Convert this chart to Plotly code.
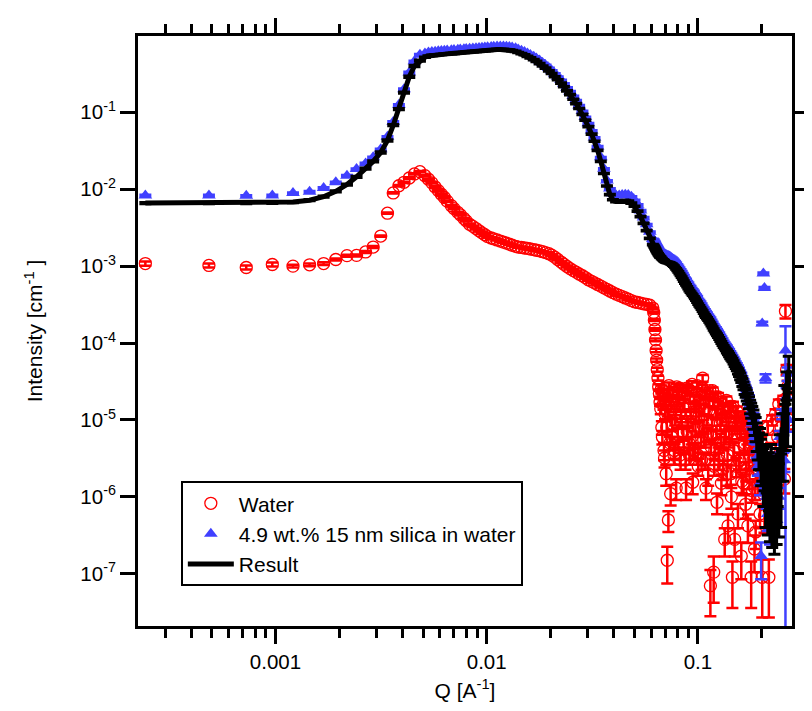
import plotly.graph_objects as go

# ---------------- Q grid [1/A] ----------------
q_low = [0.000242, 0.000484, 0.000727, 0.000966, 0.00121, 0.00145, 0.00169, 0.00193, 0.00218, 0.00242,
         0.00267, 0.00290, 0.00315, 0.00339, 0.00361, 0.00384, 0.00406, 0.00430, 0.00455, 0.00483]
q_mid = [0.0051, 0.0053, 0.0055, 0.0057, 0.0059, 0.0061, 0.0063, 0.0065, 0.0068, 0.0070,
         0.0073, 0.0075, 0.0078, 0.0080, 0.0083, 0.0086, 0.0089, 0.0092, 0.0095, 0.0098,
         0.0101, 0.0105, 0.0108, 0.0112, 0.0116, 0.0120, 0.0124, 0.0128, 0.0132, 0.0137,
         0.0141, 0.0146, 0.0151, 0.0156, 0.0161, 0.0167, 0.0172, 0.0178, 0.0184, 0.0190,
         0.0197, 0.0203, 0.0210, 0.0217, 0.0225, 0.0232, 0.0240, 0.0248, 0.0257, 0.0265,
         0.0274, 0.0284, 0.0293, 0.0303, 0.0314, 0.0324, 0.0335, 0.0347, 0.0359, 0.0371,
         0.0383, 0.0396, 0.0410, 0.0424, 0.0438, 0.0453, 0.0468, 0.0484, 0.0501, 0.0518,
         0.0535, 0.0553, 0.0572, 0.0592, 0.0612]
q_cliff = [0.0618, 0.0622, 0.0626, 0.0630, 0.0634, 0.0638, 0.0642, 0.0647, 0.0652, 0.0657, 0.0662]
q_high = [0.0667, 0.0675, 0.0683, 0.0691, 0.0699, 0.0708, 0.0716, 0.0725, 0.0734, 0.0743,
          0.0752, 0.0761, 0.0770, 0.0780, 0.0789, 0.0799, 0.0808, 0.0818, 0.0828, 0.0838,
          0.0848, 0.0858, 0.0869, 0.0879, 0.0890, 0.0901, 0.0912, 0.0923, 0.0934, 0.0945,
          0.0957, 0.0968, 0.0980, 0.0992, 0.1004, 0.1016, 0.1028, 0.1041, 0.1053, 0.1066,
          0.1079, 0.1092, 0.1105, 0.1119, 0.1132, 0.1146, 0.1160, 0.1174, 0.1188, 0.1202,
          0.1217, 0.1232, 0.1246, 0.1262, 0.1277, 0.1292, 0.1308, 0.1324, 0.1340, 0.1356,
          0.1372, 0.1389, 0.1406, 0.1423, 0.1440, 0.1457, 0.1475, 0.1493, 0.1511, 0.1529,
          0.1548, 0.1566, 0.1585, 0.1605, 0.1624, 0.1644, 0.1664, 0.1684, 0.1704, 0.1725,
          0.1746, 0.1767, 0.1788, 0.1810, 0.1832, 0.1854, 0.1877, 0.1899, 0.1922, 0.1946,
          0.1969, 0.1993, 0.2017, 0.2042, 0.2066, 0.2091, 0.2117, 0.2142, 0.2168, 0.2195,
          0.2221, 0.2248, 0.2276, 0.2303, 0.2331, 0.2359, 0.2388, 0.2417, 0.2446, 0.2476,
          0.2506, 0.2536, 0.2567, 0.2598, 0.2629, 0.2661, 0.2693]
# extra water points filling the noisy high-Q cloud
q_water_extra = [0.0671, 0.0679, 0.0687, 0.0695, 0.0704, 0.0712, 0.0720, 0.0729, 0.0738, 0.0747,
                 0.0756, 0.0765, 0.0775, 0.0784, 0.0794, 0.0803, 0.0813, 0.0823, 0.0833, 0.0843,
                 0.0853, 0.0863, 0.0874, 0.0884, 0.0895, 0.0906, 0.0917, 0.0928, 0.0939, 0.0951,
                 0.0962, 0.0974, 0.0986, 0.0998, 0.1010, 0.1022, 0.1035, 0.1047, 0.1060, 0.1072,
                 0.1085, 0.1099, 0.1112, 0.1125, 0.1139, 0.1153, 0.1167, 0.1181, 0.1195, 0.1210,
                 0.1224, 0.1239, 0.1254, 0.1269, 0.1285, 0.1300, 0.1316, 0.1332, 0.1348, 0.1364,
                 0.1381, 0.1397, 0.1414, 0.1431, 0.1449, 0.1466, 0.1484, 0.1502, 0.1520, 0.1539,
                 0.1557, 0.1576, 0.1595, 0.1614, 0.1634, 0.1654, 0.1674, 0.1694, 0.1714, 0.1735,
                 0.1756, 0.1778, 0.1799, 0.1821, 0.1843, 0.1865, 0.1888, 0.1911, 0.1934, 0.1957]

# ---------------- Water [1/cm] ----------------
water_low = [1.08e-3, 1.02e-3, 9.6e-4, 1.05e-3, 1.0e-3, 1.04e-3, 1.08e-3, 1.22e-3, 1.37e-3, 1.38e-3,
             1.53e-3, 1.77e-3, 2.46e-3, 4.88e-3, 8.95e-3, 1.11e-2, 1.23e-2, 1.40e-2, 1.58e-2, 1.69e-2]
water_mid = [1.5e-2, 1.35e-2, 1.21e-2, 1.07e-2, 9.6e-3, 8.6e-3, 7.8e-3, 7.0e-3, 6.1e-3, 5.6e-3,
             5.0e-3, 4.65e-3, 4.17e-3, 3.88e-3, 3.5e-3, 3.29e-3, 3.08e-3, 2.88e-3, 2.71e-3, 2.56e-3,
             2.42e-3, 2.32e-3, 2.26e-3, 2.19e-3, 2.12e-3, 2.05e-3, 1.99e-3, 1.93e-3, 1.87e-3, 1.81e-3,
             1.77e-3, 1.75e-3, 1.72e-3, 1.70e-3, 1.67e-3, 1.64e-3, 1.61e-3, 1.58e-3, 1.54e-3, 1.50e-3,
             1.45e-3, 1.39e-3, 1.31e-3, 1.22e-3, 1.13e-3, 1.06e-3, 9.9e-4, 9.3e-4, 8.75e-4, 8.35e-4,
             7.9e-4, 7.5e-4, 7.1e-4, 6.65e-4, 6.34e-4, 6.05e-4, 5.77e-4, 5.5e-4, 5.22e-4, 4.99e-4,
             4.75e-4, 4.53e-4, 4.32e-4, 4.17e-4, 4.02e-4, 3.86e-4, 3.72e-4, 3.57e-4, 3.44e-4, 3.37e-4,
             3.31e-4, 3.24e-4, 3.18e-4, 3.1e-4, 2.85e-4]
water_cliff = [2.5e-4, 2.0e-4, 1.5e-4, 1.1e-4, 8e-5, 6e-5, 4.5e-5, 3.5e-5, 2.7e-5, 2.2e-5, 1.7e-5]
water_high = [1.4e-5, 8e-6, 2.2e-5, 4e-6, 1.2e-5, 2e-6, 1.5e-7, 5e-7, 1.8e-5, 1.1e-6,
              6e-6, 2.4e-5, 3.5e-6, 1e-5, 1.3e-6, 1.7e-5, 5e-6, 2.6e-5, 3e-6, 9e-6,
              1.5e-5, 4.5e-6, 2.1e-5, 1.3e-6, 7e-6, 2.5e-5, 3.5e-6, 1.1e-5, 6e-6, 1.55e-6,
              1.9e-5, 4e-6, 1.3e-5, 2.8e-5, 2.5e-6, 8e-6, 1.6e-5, 3e-6, 3.5e-5, 5.5e-6,
              2.2e-5, 1.3e-6, 1e-5, 2e-6, 1.7e-5, 7e-8, 6e-6, 2.4e-5, 1.05e-7, 4e-6,
              1.2e-5, 8.5e-7, 2e-5, 3e-6, 9e-6, 1.5e-6, 1.4e-5, 5e-6, 2.8e-7, 1.1e-5,
              2e-6, 4.2e-7, 7e-6, 1.5e-5, 1e-6, 9e-8, 4e-6, 2.8e-7, 9e-6, 1.3e-5,
              6e-7, 3e-6, 7e-6, 1.7e-7, 1.1e-5, 1.5e-6, 5e-6, 8e-7, 9e-6, 4.2e-7,
              3e-6, 6e-6, 9e-8, 1.2e-6, 4e-6, 2.1e-7, 3.5e-7, 7e-6, 1.5e-6, 2.5e-6,
              6e-7, 5e-6, 9e-8, 1.1e-6, 5.7e-7, 3e-6, 2e-6, 8e-6, 9e-8, 1.5e-6,
              4e-6, 1e-5, 7e-7, 3e-6, 1.2e-5, 2e-6, 6e-6, 1.6e-5, 3e-6, 8e-6,
              4.6e-6, 1.8e-5, 1.7e-6, 2.6e-4, 4.5e-5, 2.7e-5, 1e-5]
water_extra = [2.5e-5, 6e-6, 1.6e-5, 3.2e-6, 2.0e-5, 8e-6, 1.3e-5, 2.8e-5, 5e-6, 1.5e-5,
               9e-6, 2.2e-5, 4e-6, 1.2e-5, 2.7e-5, 6.5e-6, 1.8e-5, 3.5e-6, 1.1e-5, 2.3e-5,
               7e-6, 1.6e-5, 3e-6, 2.6e-5, 9.5e-6, 5e-6, 1.9e-5, 1.2e-5, 2.9e-5, 4e-6,
               1.5e-5, 7.5e-6, 2.3e-5, 3.5e-6, 1.1e-5, 1.8e-5, 5.5e-6, 2.6e-5, 8.5e-6, 1.4e-5,
               3e-6, 2.1e-5, 6.5e-6, 1.3e-5, 2.4e-5, 4.5e-6, 9e-6, 1.7e-5, 2.5e-6, 2e-5,
               7e-6, 1.2e-5, 3.5e-6, 1.7e-5, 5.5e-6, 1e-5, 2.3e-6, 1.4e-5, 6e-6, 1.8e-5,
               3.5e-6, 9e-6, 1.3e-5, 2e-6, 6.5e-6, 1.5e-5, 4e-6, 1.1e-5, 2.5e-6, 8e-6,
               1.1e-5, 3e-6, 7e-6, 1.6e-6, 9e-6, 4.5e-6, 1e-5, 2.2e-6, 6e-6, 8e-6,
               1.8e-6, 5e-6, 7e-6, 3e-6, 6e-6, 1.3e-6, 4e-6, 5.5e-6, 2.3e-6, 3.5e-6]
# relative errors in percent
water_err_low = [6, 6, 6, 6, 4, 4, 4, 3, 3, 3, 3, 3, 2, 2, 2, 2, 2, 2, 2, 2]
water_err_mid = [2, 2, 2, 2, 2, 2, 2, 2, 2, 2, 2, 2, 2, 2, 2, 2, 2, 2, 2, 2,
                 2, 2, 2, 2, 2, 2, 2, 2, 2, 2, 2, 2, 2, 2, 2, 2, 2, 2, 2, 2,
                 2, 2, 2, 2, 2, 2, 2, 2, 2, 2, 2, 2, 2, 2, 2, 2, 2, 2, 2, 2,
                 2, 2, 2, 2, 2, 2, 2, 2, 2, 2, 2, 2, 2, 2, 2]
water_err_cliff = [3, 3, 4, 4, 5, 5, 6, 7, 8, 9, 10]
water_err_high = [15, 20, 12, 25, 15, 30, 50, 30, 12, 30,
                  20, 12, 25, 15, 30, 12, 20, 10, 25, 15,
                  12, 20, 12, 30, 20, 10, 25, 15, 20, 30,
                  12, 25, 15, 10, 25, 20, 12, 25, 10, 20,
                  12, 30, 15, 30, 12, 60, 20, 10, 60, 25,
                  15, 30, 12, 25, 20, 30, 15, 20, 40, 15,
                  30, 40, 20, 12, 30, 60, 25, 40, 20, 15,
                  35, 25, 20, 50, 15, 30, 20, 35, 20, 40,
                  25, 20, 60, 30, 25, 50, 40, 20, 30, 25,
                  35, 20, 70, 30, 40, 25, 30, 20, 70, 30,
                  25, 15, 40, 25, 15, 30, 20, 15, 30, 20,
                  25, 15, 35, 20, 15, 20, 25]
water_err_extra = [12, 20, 15, 25, 12, 20, 15, 10, 20, 15,
                   18, 12, 22, 15, 10, 20, 12, 25, 15, 12,
                   20, 15, 25, 10, 18, 20, 12, 15, 10, 22,
                   15, 20, 12, 25, 15, 12, 20, 10, 18, 15,
                   25, 12, 20, 15, 10, 22, 18, 12, 25, 12,
                   20, 15, 25, 12, 20, 15, 28, 15, 20, 12,
                   25, 18, 15, 28, 20, 15, 25, 15, 28, 18,
                   15, 25, 20, 30, 18, 22, 15, 28, 20, 18,
                   30, 22, 20, 25, 20, 30, 25, 22, 30, 25]

# ---------------- 4.9 wt.% silica [1/cm] ----------------
silica_low = [8.3e-3, 8.3e-3, 8.2e-3, 8.3e-3, 8.9e-3, 9.3e-3, 1.04e-2, 1.23e-2, 1.5e-2, 1.83e-2,
              2.16e-2, 2.6e-2, 3.3e-2, 4.8e-2, 7.5e-2, 0.125, 0.2, 0.33, 0.46, 0.56]
silica_mid = [0.58, 0.60, 0.61, 0.615, 0.62, 0.625, 0.63, 0.635, 0.64, 0.645,
              0.65, 0.655, 0.66, 0.665, 0.67, 0.675, 0.68, 0.685, 0.69, 0.695,
              0.70, 0.705, 0.71, 0.715, 0.715, 0.715, 0.71, 0.705, 0.695, 0.68,
              0.655, 0.633, 0.61, 0.583, 0.556, 0.529, 0.50, 0.47, 0.437, 0.41,
              0.377, 0.35, 0.318, 0.29, 0.263, 0.236, 0.209, 0.187, 0.163, 0.143,
              0.123, 0.104, 0.087, 0.072, 0.058, 0.047, 0.036, 0.026, 0.0185, 0.013,
              0.0102, 8.8e-3, 8.3e-3, 8.3e-3, 8.4e-3, 8.5e-3, 8.4e-3, 8.0e-3, 7.2e-3, 6.3e-3,
              5.3e-3, 4.3e-3, 3.5e-3, 2.8e-3, 2.25e-3]
silica_cliff = [2.2e-3, 2.12e-3, 2.05e-3, 1.98e-3, 1.91e-3, 1.85e-3, 1.79e-3, 1.73e-3, 1.67e-3, 1.62e-3, 1.58e-3]
silica_high = [1.55e-3, 1.5e-3, 1.46e-3, 1.42e-3, 1.39e-3, 1.37e-3, 1.36e-3, 1.35e-3, 1.33e-3, 1.3e-3,
               1.27e-3, 1.23e-3, 1.19e-3, 1.14e-3, 1.09e-3, 1.04e-3, 9.9e-4, 9.4e-4, 8.9e-4, 8.5e-4,
               8.0e-4, 7.5e-4, 7.0e-4, 6.7e-4, 6.3e-4, 6.0e-4, 5.6e-4, 5.4e-4, 5.1e-4, 4.9e-4,
               4.7e-4, 4.4e-4, 4.2e-4, 4.0e-4, 3.7e-4, 3.55e-4, 3.4e-4, 3.2e-4, 3.0e-4, 2.85e-4,
               2.7e-4, 2.55e-4, 2.45e-4, 2.3e-4, 2.2e-4, 2.1e-4, 1.97e-4, 1.86e-4, 1.74e-4, 1.65e-4,
               1.57e-4, 1.49e-4, 1.42e-4, 1.34e-4, 1.26e-4, 1.19e-4, 1.12e-4, 1.05e-4, 1.0e-4, 9.5e-5,
               9.0e-5, 8.5e-5, 8.1e-5, 7.6e-5, 7.2e-5, 6.8e-5, 6.4e-5, 6.0e-5, 5.6e-5, 5.3e-5,
               4.9e-5, 4.6e-5, 4.2e-5, 3.9e-5, 3.5e-5, 3.2e-5, 2.9e-5, 2.6e-5, 2.4e-5, 2.1e-5,
               1.9e-5, 1.6e-5, 1.3e-5, 9e-6, 1.1e-5, 6e-6, 8e-6, 4e-6, 2.5e-6, 3.5e-6,
               1.5e-6, 1.7e-7, 1.8e-4, 8e-4, 5.2e-4, 3.5e-5, 1e-6, 6e-7, 2e-6, 4e-7,
               1.2e-6, 7e-7, 3e-6, 8e-7, 1.5e-6, 5e-7, 2.5e-6, 1e-6, 6e-6, 3e-6,
               1.2e-5, 5e-6, 3e-6, 8e-5, 2e-5, 4e-5, 1e-5]
silica_err_low = [2, 2, 2, 2, 2, 2, 2, 2, 2, 2, 2, 2, 2, 2, 2, 2, 2, 2, 2, 2]
silica_err_mid = [1, 1, 1, 1, 1, 1, 1, 1, 1, 1, 1, 1, 1, 1, 1, 1, 1, 1, 1, 1,
                  1, 1, 1, 1, 1, 1, 1, 1, 1, 1, 1, 1, 1, 1, 1, 1, 1, 1, 1, 1,
                  1, 1, 1, 1, 1, 1, 1, 1, 1, 1, 1, 1, 1, 1, 1, 1, 1, 1, 1, 1,
                  1, 1, 1, 1, 1, 1, 1, 1, 1, 1, 1, 1, 1, 1, 1]
silica_err_cliff = [1, 1, 1, 1, 1, 1, 1, 1, 1, 1, 1]
silica_err_high = [2, 2, 2, 2, 2, 2, 2, 2, 2, 2,
                   2, 2, 2, 2, 2, 2, 2, 2, 2, 2,
                   2, 2, 2, 2, 2, 2, 2, 2, 2, 2,
                   2, 2, 2, 2, 2, 2, 2, 2, 2, 2,
                   2, 2, 2, 2, 2, 2, 2, 2, 2, 2,
                   2, 2, 2, 2, 2, 2, 2, 2, 2, 2,
                   3, 3, 3, 3, 3, 3, 3, 3, 3, 3,
                   4, 4, 5, 5, 6, 6, 7, 7, 8, 8,
                   10, 10, 12, 15, 12, 18, 15, 20, 25, 20,
                   30, 50, 5, 3, 3, 12, 30, 40, 25, 40,
                   30, 40, 25, 40, 30, 40, 25, 30, 20, 25,
                   15, 25, 30, 106, 30, 20, 30]

# ---------------- Result [1/cm] ----------------
result_low = [6.6e-3, 6.6e-3, 6.6e-3, 6.65e-3, 6.8e-3, 7.2e-3, 8.0e-3, 9.4e-3, 1.15e-2, 1.45e-2,
              1.85e-2, 2.3e-2, 3.0e-2, 4.3e-2, 6.8e-2, 0.11, 0.18, 0.29, 0.40, 0.47]
result_mid = [0.52, 0.54, 0.55, 0.555, 0.56, 0.565, 0.57, 0.575, 0.58, 0.585,
              0.59, 0.595, 0.60, 0.605, 0.61, 0.615, 0.62, 0.625, 0.63, 0.635,
              0.64, 0.645, 0.65, 0.655, 0.655, 0.655, 0.65, 0.645, 0.635, 0.62,
              0.60, 0.58, 0.56, 0.535, 0.51, 0.485, 0.46, 0.43, 0.40, 0.375,
              0.345, 0.32, 0.29, 0.265, 0.24, 0.215, 0.19, 0.17, 0.148, 0.13,
              0.112, 0.094, 0.079, 0.065, 0.052, 0.042, 0.032, 0.023, 0.016, 0.011,
              8.5e-3, 7.3e-3, 6.9e-3, 6.9e-3, 7.0e-3, 7.1e-3, 7.0e-3, 6.6e-3, 6.0e-3, 5.2e-3,
              4.4e-3, 3.6e-3, 2.9e-3, 2.3e-3, 1.9e-3]
result_cliff = [1.85e-3, 1.78e-3, 1.72e-3, 1.66e-3, 1.6e-3, 1.55e-3, 1.5e-3, 1.45e-3, 1.4e-3, 1.36e-3, 1.32e-3]
result_high = [1.3e-3, 1.25e-3, 1.21e-3, 1.18e-3, 1.15e-3, 1.13e-3, 1.12e-3, 1.11e-3, 1.10e-3, 1.08e-3,
               1.06e-3, 1.03e-3, 1.0e-3, 9.6e-4, 9.2e-4, 8.8e-4, 8.4e-4, 8.0e-4, 7.6e-4, 7.2e-4,
               6.8e-4, 6.4e-4, 6.0e-4, 5.7e-4, 5.4e-4, 5.1e-4, 4.8e-4, 4.6e-4, 4.4e-4, 4.2e-4,
               4.0e-4, 3.8e-4, 3.6e-4, 3.4e-4, 3.2e-4, 3.05e-4, 2.9e-4, 2.75e-4, 2.6e-4, 2.45e-4,
               2.3e-4, 2.2e-4, 2.1e-4, 2.0e-4, 1.9e-4, 1.8e-4, 1.7e-4, 1.6e-4, 1.5e-4, 1.42e-4,
               1.35e-4, 1.28e-4, 1.22e-4, 1.15e-4, 1.08e-4, 1.02e-4, 9.6e-5, 9.0e-5, 8.6e-5, 8.2e-5,
               7.8e-5, 7.4e-5, 7.0e-5, 6.6e-5, 6.3e-5, 6.0e-5, 5.6e-5, 5.2e-5, 4.9e-5, 4.6e-5,
               4.3e-5, 4.0e-5, 3.7e-5, 3.4e-5, 3.1e-5, 2.8e-5, 2.5e-5, 2.3e-5, 2.1e-5, 1.9e-5,
               1.7e-5, 1.5e-5, 1.35e-5, 1.2e-5, 1.05e-5, 9e-6, 8e-6, 6.5e-6, 5.5e-6, 4.5e-6,
               5e-6, 3.5e-6, 4e-6, 2.5e-6, 3e-6, 2e-6, 2.8e-6, 1.6e-6, 2.2e-6, 1.3e-6,
               3e-6, 1.1e-6, 2e-6, 9e-7, 1.8e-6, 1.2e-6, 2.5e-6, 1.5e-6, 4e-6, 2e-6,
               8e-6, 4e-6, 2e-5, 1e-5, 3e-5, 1.5e-5, 4.5e-5]
result_err_low = [2, 2, 2, 2, 2, 2, 2, 2, 2, 2, 2, 2, 2, 2, 2, 2, 2, 2, 2, 2]
result_err_mid = [1, 1, 1, 1, 1, 1, 1, 1, 1, 1, 1, 1, 1, 1, 1, 1, 1, 1, 1, 1,
                  1, 1, 1, 1, 1, 1, 1, 1, 1, 1, 1, 1, 1, 1, 1, 1, 1, 1, 1, 1,
                  1, 1, 1, 1, 1, 1, 1, 1, 1, 1, 1, 1, 1, 1, 1, 1, 1, 1, 1, 1,
                  1, 1, 1, 1, 1, 1, 1, 1, 1, 1, 1, 1, 1, 1, 1]
result_err_cliff = [1, 1, 1, 1, 1, 1, 1, 1, 1, 1, 1]
result_err_high = [1, 1, 1, 1, 1, 1, 1, 1, 1, 1,
                   1, 1, 1, 1, 1, 1, 1, 1, 1, 1,
                   1, 1, 1, 1, 1, 1, 1, 1, 1, 1,
                   1, 1, 1, 1, 1, 1, 1, 1, 1, 1,
                   2, 2, 2, 2, 2, 2, 2, 2, 2, 2,
                   3, 3, 3, 3, 3, 3, 3, 3, 3, 3,
                   5, 5, 5, 5, 5, 5, 5, 5, 5, 5,
                   8, 8, 10, 10, 12, 12, 14, 14, 16, 16,
                   18, 20, 22, 25, 28, 30, 35, 40, 45, 50,
                   55, 60, 60, 70, 60, 80, 60, 80, 70, 80,
                   60, 80, 70, 80, 75, 80, 70, 80, 60, 80,
                   50, 60, 40, 60, 40, 70, 50]

# ---------------- axis ticks ----------------
x_tickvals = [0.001, 0.01, 0.1]
x_ticktext = ["0.001", "0.01", "0.1"]
x_minorvals = [3e-4, 4e-4, 5e-4, 6e-4, 7e-4, 8e-4, 9e-4,
               2e-3, 3e-3, 4e-3, 5e-3, 6e-3, 7e-3, 8e-3, 9e-3,
               0.02, 0.03, 0.04, 0.05, 0.06, 0.07, 0.08, 0.09, 0.2]
y_tickvals = [1e-1, 1e-2, 1e-3, 1e-4, 1e-5, 1e-6, 1e-7]
y_ticktext = ["10<sup>-1</sup>", "10<sup>-2</sup>", "10<sup>-3</sup>", "10<sup>-4</sup>",
              "10<sup>-5</sup>", "10<sup>-6</sup>", "10<sup>-7</sup>"]

q = q_low + q_mid + q_cliff + q_high
water = water_low + water_mid + water_cliff + water_high
silica = silica_low + silica_mid + silica_cliff + silica_high
result = result_low + result_mid + result_cliff + result_high
water_pct = water_err_low + water_err_mid + water_err_cliff + water_err_high
silica_pct = silica_err_low + silica_err_mid + silica_err_cliff + silica_err_high
result_pct = result_err_low + result_err_mid + result_err_cliff + result_err_high
for arr in (water, silica, result, water_pct, silica_pct, result_pct):
    assert len(arr) == len(q), len(arr)
assert len(q_water_extra) == len(water_extra) == len(water_err_extra)

q_water = q + q_water_extra
water_all = water + water_extra
water_pct_all = water_pct + water_err_extra


def abs_err(vals, pct):
    return [v * p / 100.0 for v, p in zip(vals, pct)]


RED = "#ff0000"
BLUE = "#4040ff"
FONT = "Liberation Sans, Arial, Helvetica, sans-serif"

fig = go.Figure()
fig.add_trace(go.Scatter(
    x=q_water, y=water_all, mode="markers", name="Water",
    marker=dict(symbol="circle-open", size=12, color=RED, line=dict(width=1.3, color=RED)),
    error_y=dict(type="data", array=abs_err(water_all, water_pct_all), visible=True,
                 color=RED, thickness=2.5, width=6),
))
fig.add_trace(go.Scatter(
    x=q, y=silica, mode="markers", name="4.9 wt.% 15 nm silica in water",
    marker=dict(symbol="triangle-up", size=12, color=BLUE, line=dict(width=0)),
    error_y=dict(type="data", array=abs_err(silica, silica_pct), visible=True,
                 color=BLUE, thickness=2.5, width=6),
))
fig.add_trace(go.Scatter(
    x=q, y=result, mode="lines", name="Result",
    line=dict(color="black", width=5),
    error_y=dict(type="data", array=abs_err(result, result_pct), visible=True,
                 color="black", thickness=3, width=6),
))

axis_common = dict(
    type="log", showline=True, linecolor="black", linewidth=3, mirror="ticks",
    ticks="outside", ticklen=15, tickwidth=3, tickcolor="black",
    showgrid=False, zeroline=False, tickfont=dict(family=FONT, size=20.5, color="black"),
)
fig.update_xaxes(
    **axis_common, range=[-3.651, -0.5544], tickmode="array",
    tickvals=x_tickvals, ticktext=x_ticktext,
    minor=dict(tickmode="array", tickvals=x_minorvals, ticks="outside", ticklen=9,
               tickwidth=3, tickcolor="black", showgrid=False),
    title=dict(text="Q [A<sup>-1</sup>]", font=dict(family=FONT, size=21, color="black"), standoff=12),
)
fig.update_yaxes(
    **axis_common, range=[-7.679, -0.0078], tickmode="array",
    tickvals=y_tickvals, ticktext=y_ticktext,
    title=dict(text="Intensity [cm<sup>-1</sup> ]", font=dict(family=FONT, size=21, color="black"), standoff=32),
)
fig.update_layout(
    width=812, height=711,
    margin=dict(l=130, r=10, t=25, b=93),
    paper_bgcolor="white", plot_bgcolor="white",
    font=dict(family=FONT, size=20, color="black"),
    showlegend=True,
    legend=dict(x=0.0655, y=0.0675, xanchor="left", yanchor="bottom",
                bgcolor="white", bordercolor="black", borderwidth=2, itemwidth=46,
                font=dict(family=FONT, size=21, color="black"), tracegroupgap=0),
)
fig.write_html("out.html")
